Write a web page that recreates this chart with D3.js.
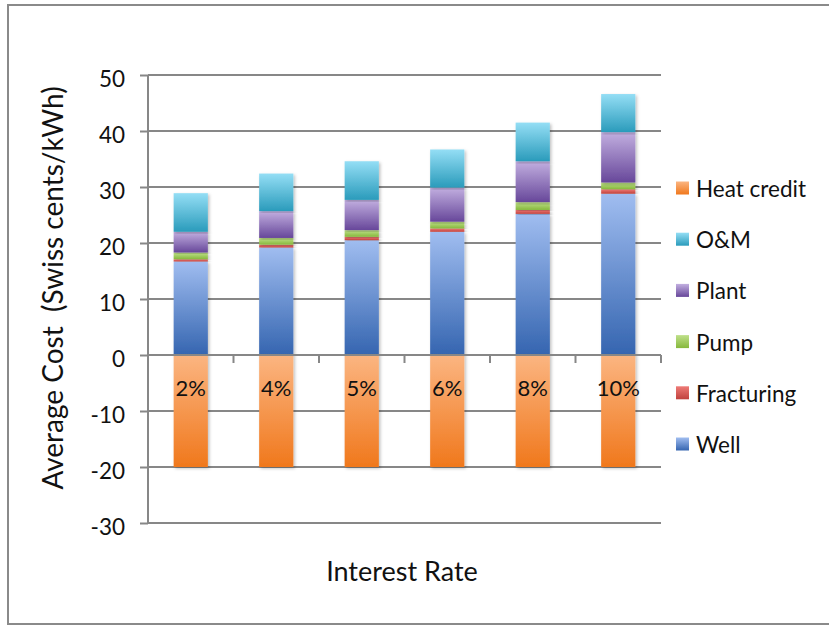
<!DOCTYPE html>
<html>
<head>
<meta charset="utf-8">
<script src="https://cdn.jsdelivr.net/npm/d3@7"></script>
<style>
  html, body { margin: 0; padding: 0; background: #ffffff; }
  svg { display: block; }
  text { font-family: Lato, "Open Sans", sans-serif; fill: #111; }
</style>
</head>
<body>
<svg id="chart" width="829" height="626"></svg>
<script>
// ---- data ----
const categories = ["2%", "4%", "5%", "6%", "8%", "10%"];
const well       = [16.7, 19.2, 20.5, 22.0, 25.2, 28.8];
const fracturing = [0.4, 0.5, 0.6, 0.6, 0.7, 0.8];
const pump       = [1.2, 1.2, 1.2, 1.2, 1.4, 1.2];
const plant      = [3.7, 4.8, 5.4, 6.1, 7.3, 9.0];
const om         = [6.9, 6.7, 6.9, 6.8, 6.9, 6.8];
const heatCredit = [-20, -20, -20, -20, -20, -20];
const yTicks = [-30, -20, -10, 0, 10, 20, 30, 40, 50];
const seriesNames = ["Well", "Fracturing", "Pump", "Plant", "O&M", "Heat credit"];
const legendOrder = ["Heat credit", "O&M", "Plant", "Pump", "Fracturing", "Well"];
const yTitle = "Average Cost\u00a0\u00a0(Swiss cents/kWh)";
const xTitle = "Interest Rate";

// ---- styles ----
const colors = {
  "Well":        ["#a0bdf0", "#3565b0"],
  "Fracturing":  ["#ee7a76", "#c0413d"],
  "Pump":        ["#bfe08a", "#86b83c"],
  "Plant":       ["#c2afe0", "#67479a"],
  "O&M":         ["#94def5", "#2a9bbb"],
  "Heat credit": ["#fbb581", "#f0781c"]
};

const table = categories.map((c, i) => ({
  cat: c,
  "Well": well[i], "Fracturing": fracturing[i], "Pump": pump[i],
  "Plant": plant[i], "O&M": om[i], "Heat credit": heatCredit[i]
}));

const svg = d3.select("#chart");
const defs = svg.append("defs");

seriesNames.forEach((k, i) => {
  const g = defs.append("linearGradient").attr("id", "grad" + i)
    .attr("x1", 0).attr("y1", 0).attr("x2", 0).attr("y2", 1);
  g.append("stop").attr("offset", "0%").attr("stop-color", colors[k][0]);
  g.append("stop").attr("offset", "100%").attr("stop-color", colors[k][1]);
});
const f = defs.append("filter").attr("id", "shadow")
  .attr("x", "-20%").attr("y", "-5%").attr("width", "140%").attr("height", "110%");
f.append("feDropShadow").attr("dx", 1.5).attr("dy", 1.5).attr("stdDeviation", 1.5)
  .attr("flood-color", "#000").attr("flood-opacity", 0.25);

// outer frame
svg.append("rect").attr("x", 8).attr("y", 5).attr("width", 840).attr("height", 619)
  .attr("fill", "none").attr("stroke", "#8a8a8a").attr("stroke-width", 2);

const x0 = 148, x1 = 661, yTop = 75, yBot = 523;
const x = d3.scaleBand().domain(categories).range([x0, x1])
  .paddingInner(0.6).paddingOuter(0.3);
const y = d3.scaleLinear().domain([-30, 50]).range([yBot, yTop]);

// gridlines
svg.append("g").selectAll("line").data(yTicks).join("line")
  .attr("x1", x0).attr("x2", x1)
  .attr("y1", d => y(d)).attr("y2", d => y(d))
  .attr("stroke", "#878787").attr("stroke-width", 2);

// y axis
const yAxis = svg.append("g").attr("transform", `translate(${x0},0)`)
  .call(d3.axisLeft(y).tickValues(yTicks).tickSize(8).tickPadding(15).tickFormat(d => String(d)));
yAxis.selectAll("path, line").attr("stroke", "#878787").attr("stroke-width", 2);
yAxis.select(".domain").attr("d", `M0,${yTop}V${yBot}`);
yAxis.selectAll("text").attr("font-size", 22.5).attr("font-family", "Lato, sans-serif")
  .attr("fill", "#111").attr("dy", "0.5em");

// stacked bars
const stack = d3.stack().keys(seriesNames).offset(d3.stackOffsetDiverging);
const stacked = stack(table);
svg.append("g").selectAll("g").data(stacked).join("g")
  .attr("fill", (d, i) => `url(#grad${i})`)
  .selectAll("rect").data(d => d).join("rect")
  .attr("x", d => x(d.data.cat))
  .attr("width", x.bandwidth())
  .attr("y", d => y(Math.max(d[0], d[1])))
  .attr("height", d => Math.abs(y(d[0]) - y(d[1])))
  .attr("filter", "url(#shadow)");

// category axis along zero with boundary ticks
const step = x.step();
const boundaries = categories.map(c => x(c) - step * x.paddingInner() / 2).concat([x1]);
const zeroY = y(0);
svg.append("line").attr("x1", x0).attr("x2", x1).attr("y1", zeroY).attr("y2", zeroY)
  .attr("stroke", "#878787").attr("stroke-width", 2);
svg.append("g").selectAll("line").data(boundaries).join("line")
  .attr("x1", d => d).attr("x2", d => d)
  .attr("y1", zeroY).attr("y2", zeroY + 8)
  .attr("stroke", "#878787").attr("stroke-width", 2);

// category labels
svg.append("g").selectAll("text").data(categories).join("text")
  .attr("x", d => x(d) + x.bandwidth() / 2)
  .attr("y", zeroY + 41)
  .attr("text-anchor", "middle").attr("font-size", 22)
  .text(d => d);

// axis titles
svg.append("text").attr("transform", `translate(63,288) rotate(-90)`)
  .attr("text-anchor", "middle").attr("font-size", 28).text(yTitle);
svg.append("text").attr("x", 402).attr("y", 581)
  .attr("text-anchor", "middle").attr("font-size", 27).text(xTitle);

// legend
const lg = svg.append("g").selectAll("g").data(legendOrder).join("g")
  .attr("transform", (d, i) => `translate(676,${188 + i * 51.2})`);
lg.append("rect").attr("x", 0).attr("y", -6.5).attr("width", 13).attr("height", 13)
  .attr("fill", d => `url(#grad${seriesNames.indexOf(d)})`);
lg.append("text").attr("x", 20).attr("y", 9).attr("font-size", 22.5).text(d => d);
</script>
</body>
</html>
